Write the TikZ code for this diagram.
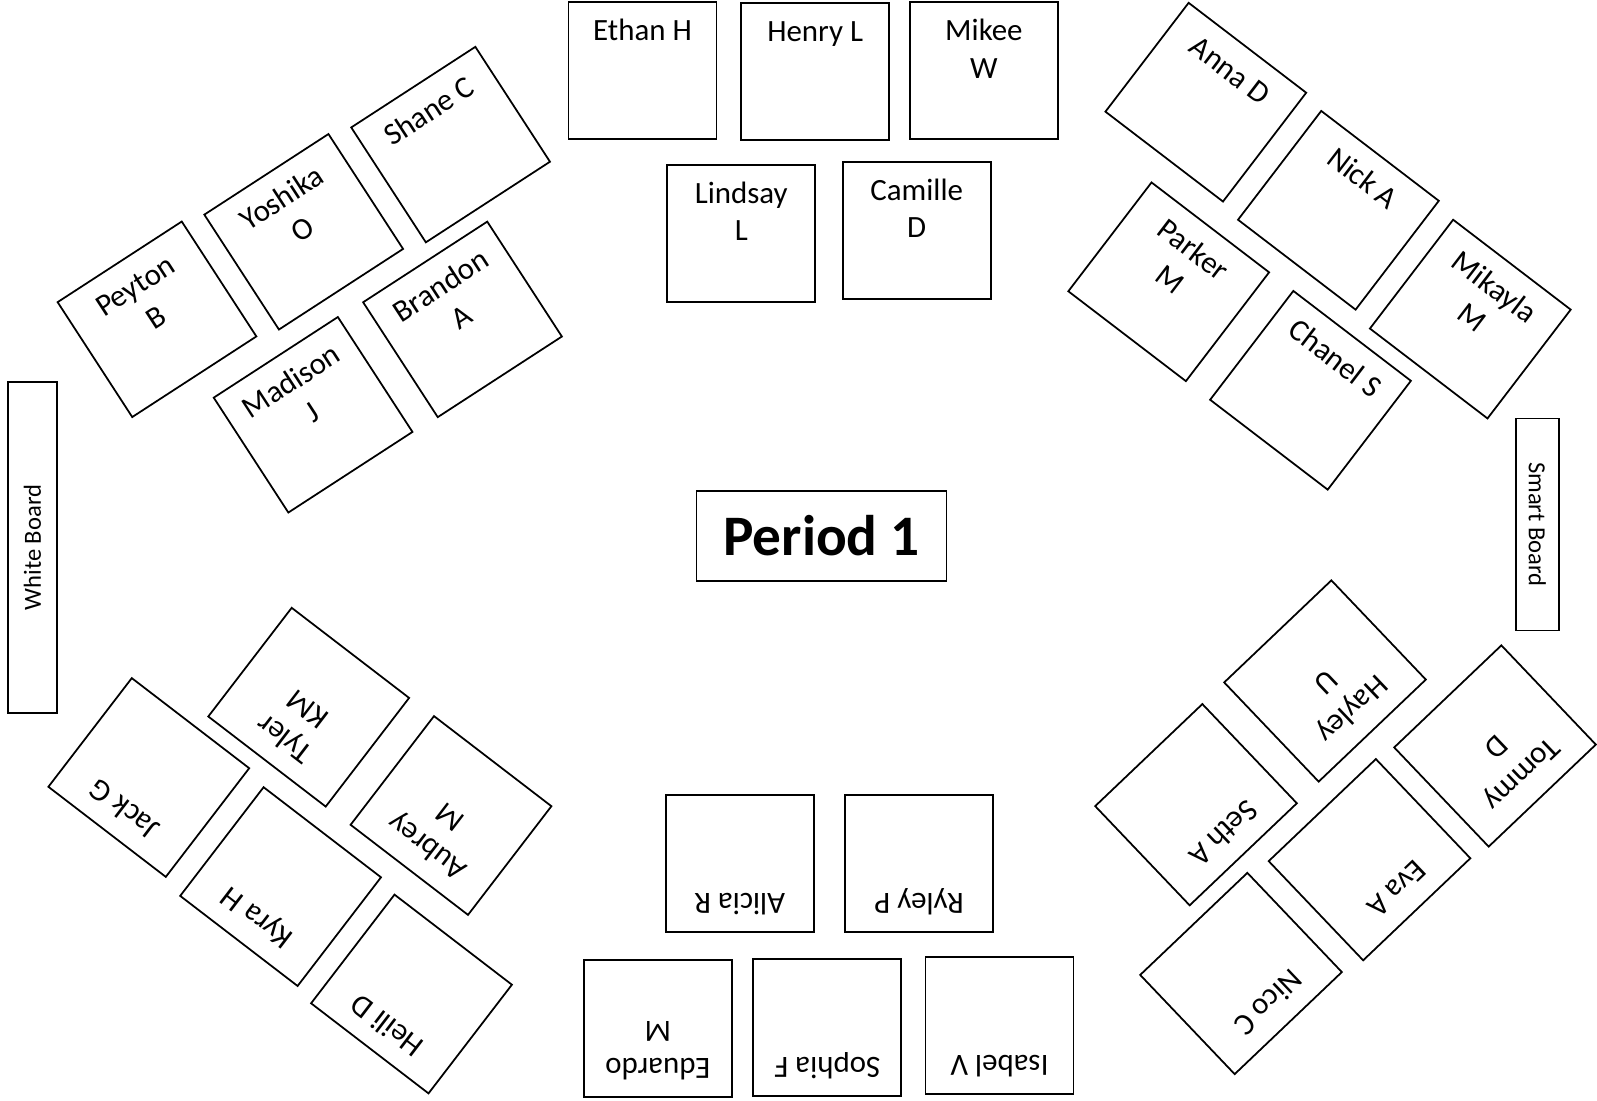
\documentclass[tikz,border=0pt]{standalone}
\usepackage{fontspec}
\setmainfont{Carlito}
\usepackage{tikz}

% desk label: names sit near the front edge of each desk
\newcommand{\desktext}[1]{\parbox[c][1.37cm][t]{1.48cm}{\centering\rule{0pt}{0.385cm}#1}}

\begin{document}
\begin{tikzpicture}[
    desk/.style={draw, line width=0.5pt, inner sep=0pt, font=\fontsize{8.8}{10.7}\selectfont},
    board/.style={draw, line width=0.5pt, inner sep=0pt, font=\fontsize{7}{8}\selectfont},
    titlebox/.style={draw, line width=0.5pt, minimum width=2.5cm, minimum height=0.9cm, font=\bfseries\fontsize{16.3}{19}\selectfont}
]
    \useasboundingbox (0,0) rectangle (15.97,-11.01);

    % Title
    \node[titlebox] (title) at (8.215, -5.358) {Period 1};

    % Boards
    \node[board, rotate=90, minimum width=3.31cm, minimum height=0.49cm] (wboard) at (0.325, -5.475) {White Board};
    \node[board, rotate=-90, minimum width=2.12cm, minimum height=0.427cm] (sboard) at (15.374, -5.244) {Smart Board};

    % Front rows
    \node[desk] (ethan) at (6.425, -0.705) {\desktext{Ethan H}};
    \node[desk] (henry) at (8.152, -0.713) {\desktext{Henry L}};
    \node[desk] (mikee) at (9.839, -0.708) {\desktext{Mikee\\W}};
    \node[desk] (lindsay) at (7.413, -2.332) {\desktext{Lindsay\\L}};
    \node[desk] (camille) at (9.167, -2.303) {\desktext{Camille\\D}};

    % Left pod
    \node[desk, rotate=33] (peyton) at (1.570, -3.193) {\desktext{Peyton\\B}};
    \node[desk, rotate=33] (yoshika) at (3.037, -2.318) {\desktext{Yoshika\\O}};
    \node[desk, rotate=33] (shane) at (4.506, -1.446) {\desktext{Shane C}};
    \node[desk, rotate=33] (madison) at (3.131, -4.148) {\desktext{Madison\\J}};
    \node[desk, rotate=33] (brandon) at (4.625, -3.194) {\desktext{Brandon\\A}};

    % Right pod
    \node[desk, rotate=-37.4] (anna) at (12.058, -1.022) {\desktext{Anna D}};
    \node[desk, rotate=-37.4] (nick) at (13.384, -2.103) {\desktext{Nick A}};
    \node[desk, rotate=-37.4] (parker) at (11.687, -2.818) {\desktext{Parker\\M}};
    \node[desk, rotate=-37.4] (mikayla) at (14.703, -3.191) {\desktext{Mikayla\\M}};
    \node[desk, rotate=-37.4] (chanel) at (13.105, -3.903) {\desktext{Chanel S}};

    % Back left pod
    \node[desk, rotate=142.5] (tyler) at (3.087, -7.072) {\desktext{Tyler\\KM}};
    \node[desk, rotate=142.5] (jack) at (1.488, -7.775) {\desktext{Jack G}};
    \node[desk, rotate=142.5] (kyra) at (2.806, -8.866) {\desktext{Kyra H}};
    \node[desk, rotate=142.5] (aubrey) at (4.510, -8.155) {\desktext{Aubrey\\M}};
    \node[desk, rotate=142.5] (heili) at (4.115, -9.940) {\desktext{Heili D}};

    % Back right pod
    \node[desk, rotate=-136.4] (hayley) at (13.250, -6.810) {\desktext{Hayley\\U}};
    \node[desk, rotate=-136.4] (tommy) at (14.950, -7.460) {\desktext{Tommy\\D}};
    \node[desk, rotate=-136.4] (seth) at (11.960, -8.047) {\desktext{Seth A}};
    \node[desk, rotate=-136.4] (eva) at (13.695, -8.597) {\desktext{Eva A}};
    \node[desk, rotate=-136.4] (nico) at (12.410, -9.735) {\desktext{Nico C}};

    % Back rows
    \node[desk, rotate=180] (alicia) at (7.397, -8.632) {\desktext{Alicia R}};
    \node[desk, rotate=180] (ryley) at (9.192, -8.635) {\desktext{Ryley P}};
    \node[desk, rotate=180] (eduardo) at (6.578, -10.288) {\desktext{Eduardo\\M}};
    \node[desk, rotate=180] (sophia) at (8.272, -10.278) {\desktext{Sophia F}};
    \node[desk, rotate=180] (isabel) at (9.995, -10.255) {\desktext{Isabel V}};
\end{tikzpicture}
\end{document}
